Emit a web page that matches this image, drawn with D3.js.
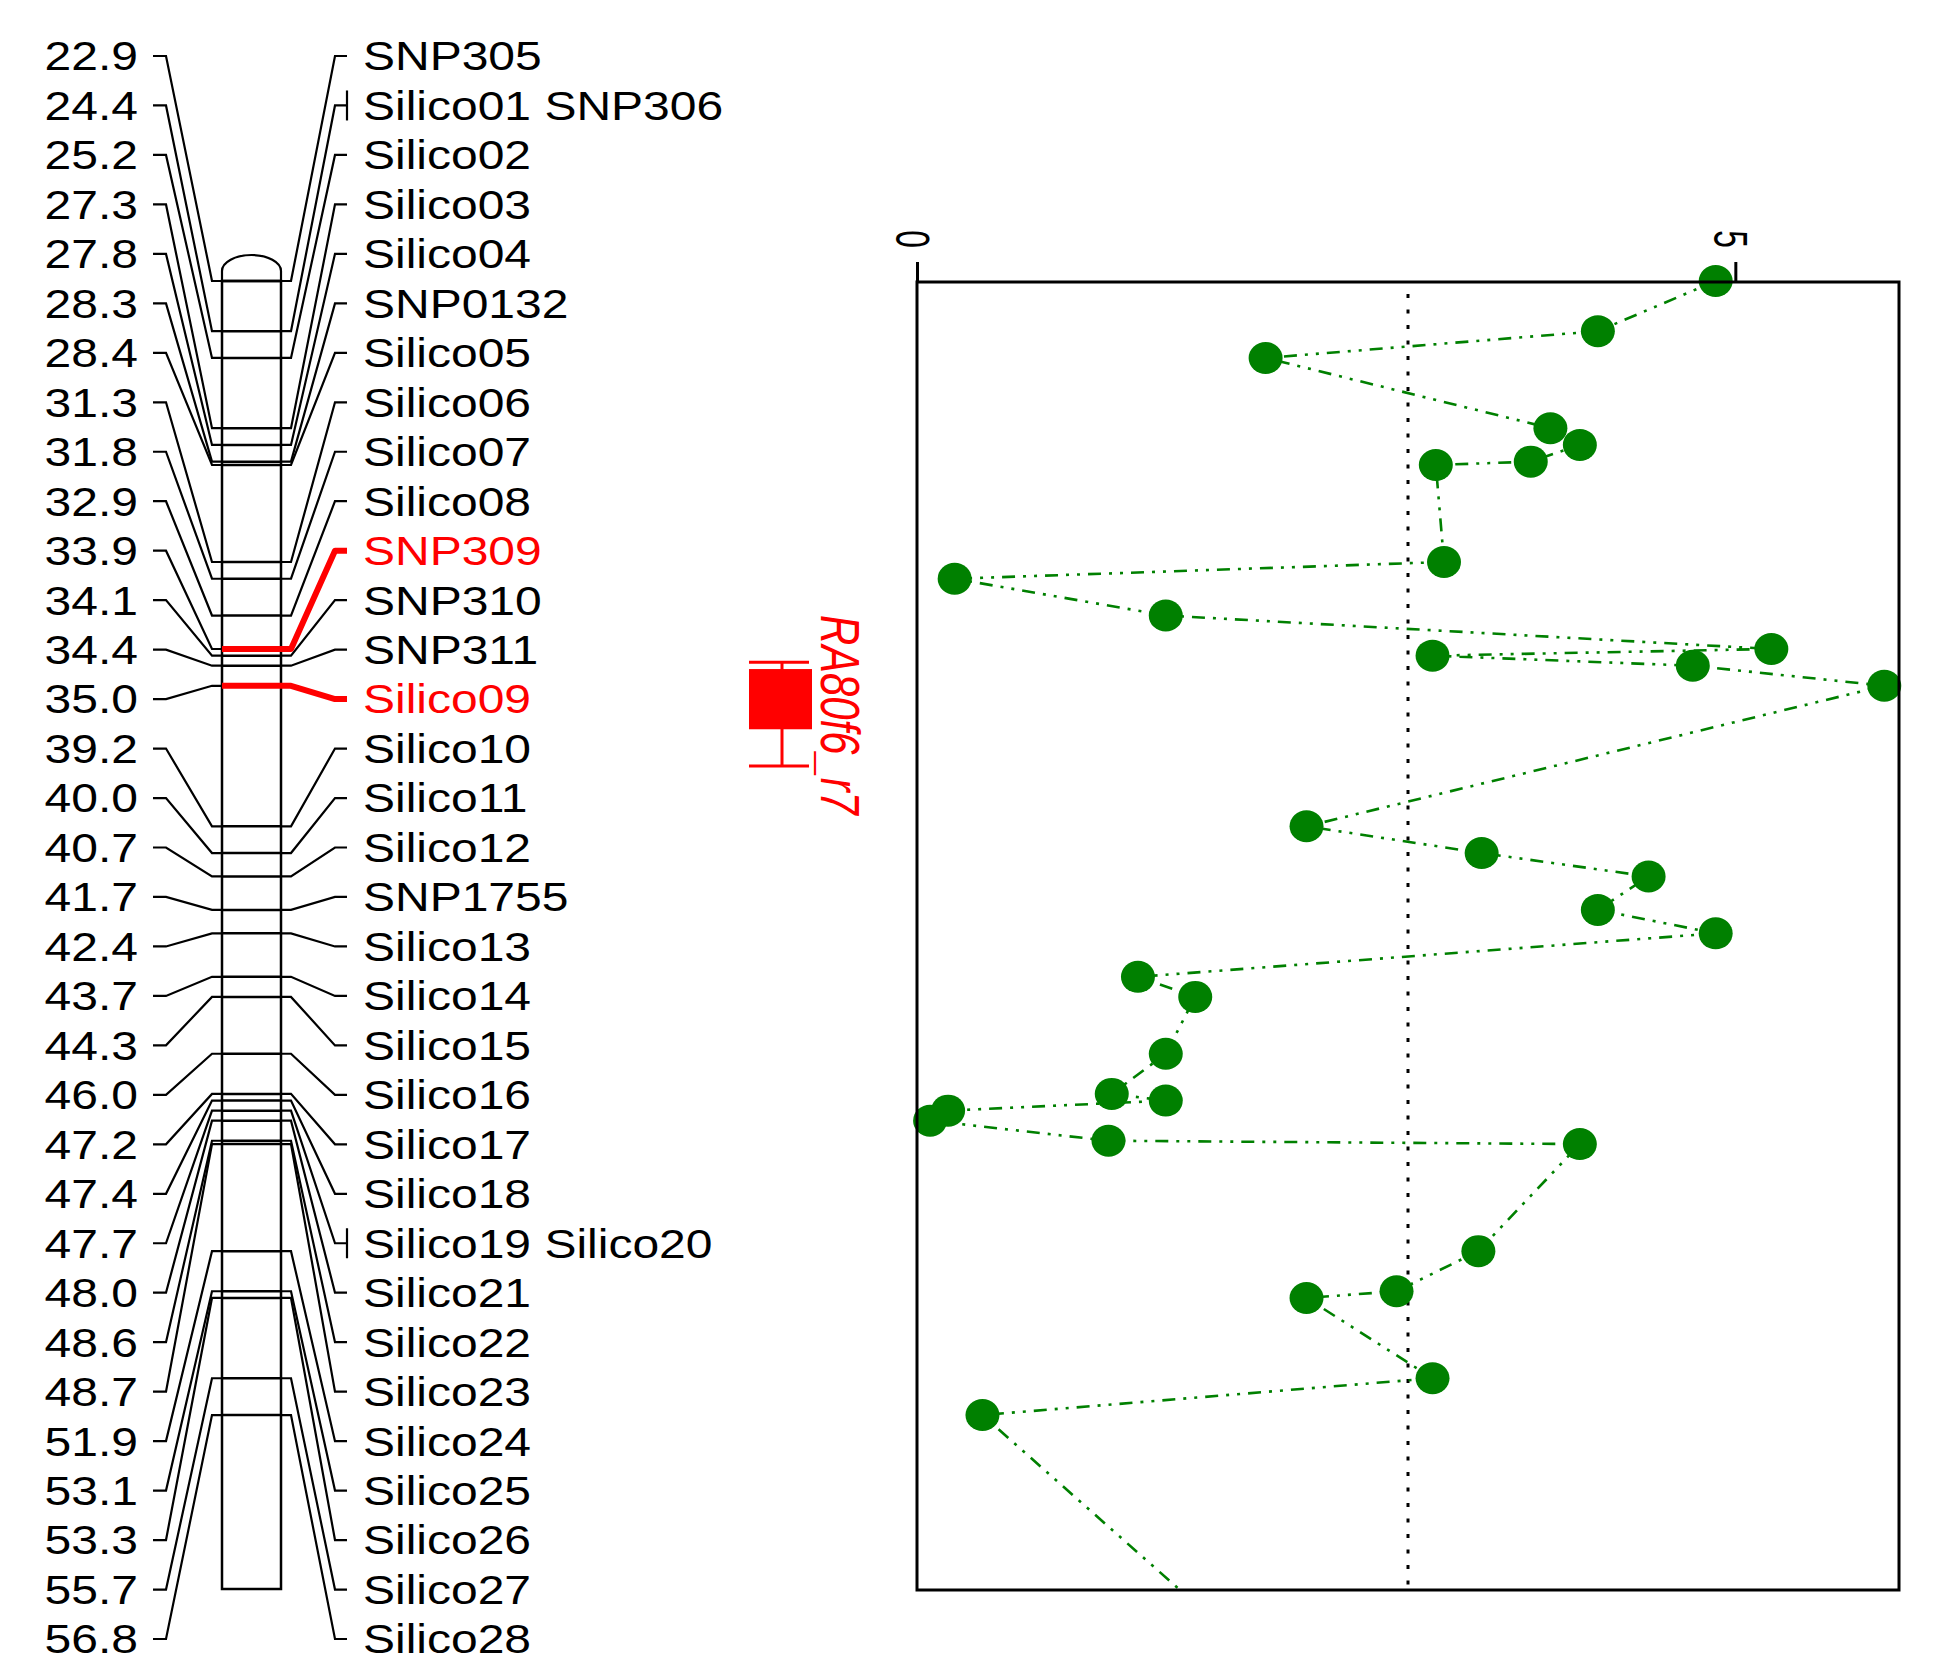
<!DOCTYPE html>
<html>
<head>
<meta charset="utf-8">
<script src="https://cdn.jsdelivr.net/npm/d3@7/dist/d3.min.js"></script>
<style>
  html, body { margin: 0; padding: 0; background: #fff; }
  svg { display: block; }
  text { font-family: "Liberation Sans", Arial, sans-serif; }
</style>
</head>
<body>
<script>
// ---------------- data ----------------
const markerCM = [22.9, 24.4, 25.2, 27.3, 27.8, 28.3, 28.4, 31.3, 31.8, 32.9,
  33.9, 34.1, 34.4, 35.0, 39.2, 40.0, 40.7, 41.7, 42.4, 43.7, 44.3, 46.0,
  47.2, 47.4, 47.7, 48.0, 48.6, 48.7, 51.9, 53.1, 53.3, 55.7, 56.8];
const markerNames = ["SNP305", "Silico01 SNP306", "Silico02", "Silico03", "Silico04",
  "SNP0132", "Silico05", "Silico06", "Silico07", "Silico08", "SNP309", "SNP310",
  "SNP311", "Silico09", "Silico10", "Silico11", "Silico12", "SNP1755", "Silico13",
  "Silico14", "Silico15", "Silico16", "Silico17", "Silico18", "Silico19 Silico20",
  "Silico21", "Silico22", "Silico23", "Silico24", "Silico25", "Silico26",
  "Silico27", "Silico28"];
const lodValues = [4.88, 4.16, 2.13, 3.87, 4.05, 3.75, 3.17, 3.22, 0.23, 1.52,
  5.22, 3.15, 4.74, 5.91, 2.38, 3.45, 4.47, 4.16, 4.88, 1.35, 1.70, 1.52,
  1.19, 1.52, 0.19, 0.08, 1.17, 4.05, 3.43, 2.93, 2.38, 3.15, 0.40];
const chromosomeRange = [22.9, 62.0];      // cM, top to bottom of the linkage group
const curveTail = [62.0, 1.6];             // [cM, LOD] end of the LOD profile
const highlightedMarkers = ["SNP309", "Silico09"];
const qtlName = "RA80f6_r7";
const qtlOuter = [34.3, 37.4];             // cM, whiskers
const qtlInner = [34.5, 36.3];             // cM, box
const lodThreshold = 3.0;
const lodDomain = [0, 6];
const lodTicks = [0, 5];

// ---------------- layout ----------------
const W = 1935, H = 1673;
const svg = d3.select("body").append("svg").attr("width", W).attr("height", H);
svg.append("rect").attr("width", W).attr("height", H).attr("fill", "#fff");

const y = d3.scaleLinear().domain(chromosomeRange).range([281, 1589]);
const labelY = d3.scaleLinear().domain([0, markerCM.length - 1]).range([56, 1639]);
const x = d3.scaleLinear().domain(lodDomain).range([917, 1899]);

const chrL = 222, chrR = 281;
const rows = markerCM.map((c, i) => ({
  cM: c, name: markerNames[i], lod: lodValues[i], i,
  yM: y(c), yL: labelY(i),
  hi: highlightedMarkers.includes(markerNames[i])
}));

// ---------------- chromosome ----------------
const chr = svg.append("g");
const yTop = y(chromosomeRange[0]), yBot = y(chromosomeRange[1]);
chr.append("path")
  .attr("d", `M${chrL},${yTop} V${yTop - 10} A${(chrR - chrL) / 2},16 0 0 1 ${chrR},${yTop - 10} V${yTop}`)
  .attr("fill", "none").attr("stroke", "#000").attr("stroke-width", 2.2);
chr.append("rect")
  .attr("x", chrL).attr("y", yTop).attr("width", chrR - chrL).attr("height", yBot - yTop)
  .attr("fill", "#fff").attr("stroke", "#000").attr("stroke-width", 2.5);
chr.selectAll("line.mk").data(rows).join("line")
  .attr("x1", chrL).attr("x2", chrR).attr("y1", d => d.yM).attr("y2", d => d.yM)
  .attr("stroke", "#000").attr("stroke-width", 2.5);

// connectors
const conn = svg.append("g").attr("fill", "none").attr("stroke", "#000").attr("stroke-width", 2.2);
conn.selectAll("path.l").data(rows).join("path")
  .attr("d", d => `M153,${d.yL} H166 L212,${d.yM} H${chrL}`);
conn.selectAll("path.r").data(rows).join("path")
  .attr("d", d => `M${chrR},${d.yM} H291 L335,${d.yL} H347`);
conn.selectAll("path.b").data(rows.filter(d => d.name.includes(" "))).join("path")
  .attr("d", d => `M347,${d.yL - 15} V${d.yL + 15}`);

// highlighted markers
const hiG = svg.append("g").attr("fill", "none").attr("stroke", "#ff0000").attr("stroke-width", 6)
  .attr("stroke-linejoin", "round");
hiG.selectAll("path").data(rows.filter(d => d.hi)).join("path")
  .attr("d", d => `M${chrL},${d.yM} H291 L335,${d.yL} H347`);

// labels
const FS = 40;
svg.append("g").selectAll("text").data(rows).join("text")
  .attr("transform", d => `translate(138,${d.yL}) scale(1.2,1)`)
  .attr("text-anchor", "end").attr("dy", "0.36em")
  .attr("font-size", FS).attr("fill", "#000")
  .text(d => d.cM.toFixed(1));
svg.append("g").selectAll("text").data(rows).join("text")
  .attr("transform", d => `translate(363,${d.yL}) scale(1.2,1)`)
  .attr("text-anchor", "start").attr("dy", "0.36em")
  .attr("font-size", FS).attr("fill", d => d.hi ? "#ff0000" : "#000")
  .text(d => d.name);

// ---------------- QTL interval ----------------
const qx = 782, qHalf = 30;
const q = svg.append("g").attr("stroke", "#ff0000").attr("stroke-width", 3);
q.append("line").attr("x1", qx).attr("x2", qx).attr("y1", y(qtlOuter[0])).attr("y2", y(qtlOuter[1]));
q.selectAll("line.cap").data(qtlOuter).join("line")
  .attr("x1", qx - qHalf - 3).attr("x2", qx + qHalf - 3)
  .attr("y1", d => y(d)).attr("y2", d => y(d));
q.append("rect").attr("x", qx - qHalf - 3).attr("width", 2 * qHalf + 3)
  .attr("y", y(qtlInner[0])).attr("height", y(qtlInner[1]) - y(qtlInner[0]))
  .attr("fill", "#ff0000").attr("stroke", "none");
svg.append("text")
  .attr("transform", `translate(821,${y(qtlInner[0]) - 54}) rotate(90) scale(0.76,1)`)
  .attr("font-size", 55).attr("font-style", "italic").attr("fill", "#ff0000")
  .text(qtlName);

// ---------------- LOD panel ----------------
const pTop = y(chromosomeRange[0]) + 1, pBot = y(chromosomeRange[1]) + 1;
const lod = svg.append("g");

// threshold
lod.append("line")
  .attr("x1", x(lodThreshold)).attr("x2", x(lodThreshold))
  .attr("y1", pTop + 12).attr("y2", pBot)
  .attr("stroke", "#000").attr("stroke-width", 3).attr("stroke-dasharray", "4,11.5");

// profile
const curve = rows.map(d => [d.cM, d.lod]).concat([curveTail]);
lod.append("path")
  .attr("d", d3.line().x(d => x(d[1])).y(d => y(d[0]))(curve))
  .attr("fill", "none").attr("stroke", "#008000").attr("stroke-width", 2.6)
  .attr("stroke-dasharray", "13,8,3,8,3,8");
lod.selectAll("ellipse").data(rows).join("ellipse")
  .attr("cx", d => x(d.lod)).attr("cy", d => d.yM).attr("rx", 17).attr("ry", 16)
  .attr("fill", "#008000");

// frame
lod.append("rect")
  .attr("x", x(lodDomain[0])).attr("y", pTop)
  .attr("width", x(lodDomain[1]) - x(lodDomain[0])).attr("height", pBot - pTop)
  .attr("fill", "none").attr("stroke", "#000").attr("stroke-width", 3);

// axis
const axis = d3.axisTop(x).tickValues(lodTicks).tickSize(20).tickFormat(d3.format("d"));
const ag = svg.append("g").attr("transform", `translate(0,${pTop})`).call(axis);
ag.select(".domain").remove();
ag.selectAll(".tick line").attr("stroke", "#000").attr("stroke-width", 3);
ag.selectAll(".tick text")
  .attr("x", null).attr("y", null).attr("dy", null)
  .attr("transform", "translate(-22,-34) rotate(90) scale(0.66,1)")
  .attr("text-anchor", "end")
  .attr("font-size", 48).attr("fill", "#000")
  .attr("font-family", "'Liberation Sans', Arial, sans-serif");
</script>
</body>
</html>
